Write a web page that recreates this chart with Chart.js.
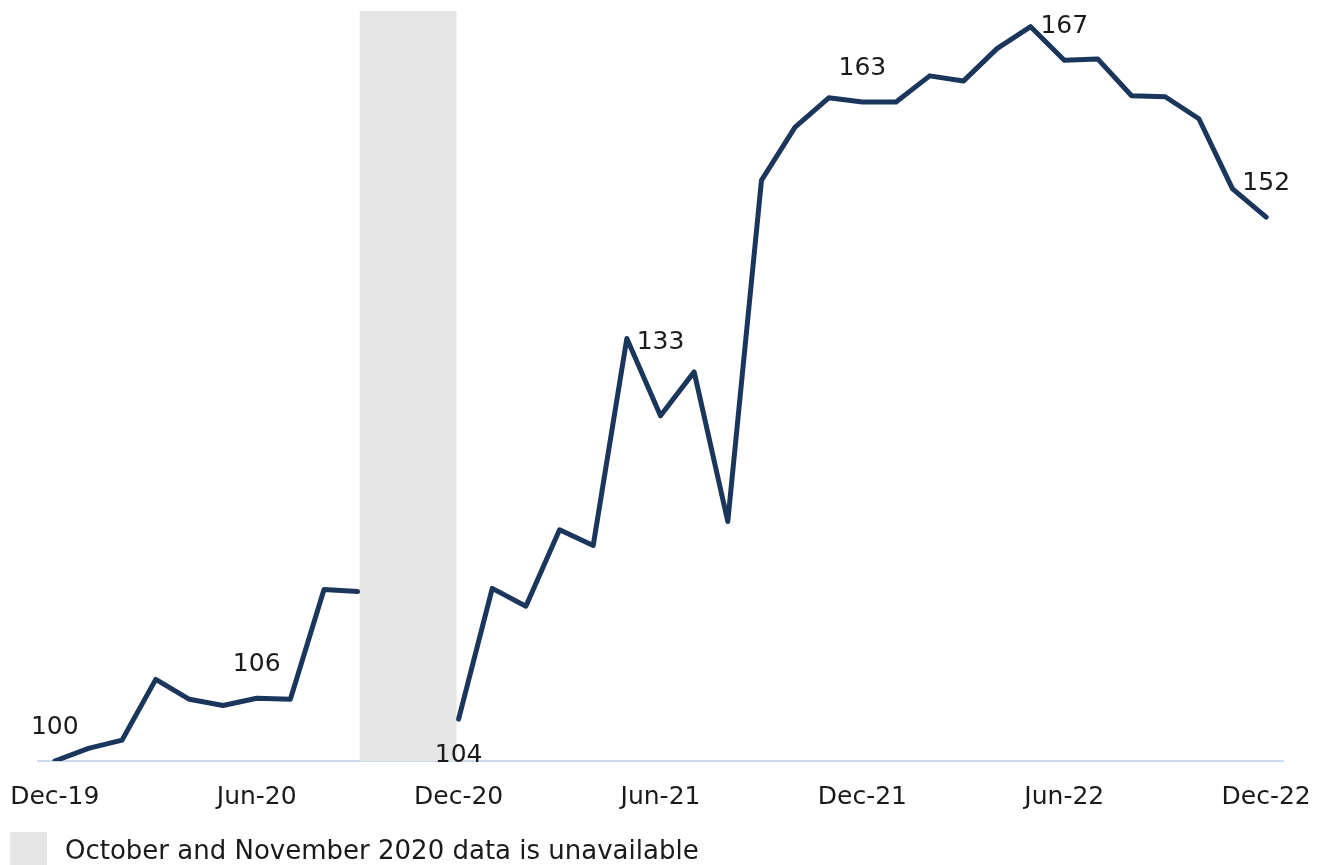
<!DOCTYPE html>
<html>
<head>
<meta charset="utf-8">
<script src="https://cdn.jsdelivr.net/npm/chart.js@4/dist/chart.umd.min.js"></script>
<style>
  html, body { margin: 0; padding: 0; background: #fff; overflow: hidden; }
  #wrap { width: 1329px; height: 865px; position: relative; }
</style>
</head>
<body>
<div id="wrap"><canvas id="myChart"></canvas></div>
<script>
// monthly index, Dec-19 = 100 (Oct/Nov 2020 missing)
var months = ['Dec-19', 'Jan-20', 'Feb-20', 'Mar-20', 'Apr-20', 'May-20', 'Jun-20', 'Jul-20', 'Aug-20', 'Sep-20', 'Oct-20', 'Nov-20',
              'Dec-20', 'Jan-21', 'Feb-21', 'Mar-21', 'Apr-21', 'May-21', 'Jun-21', 'Jul-21', 'Aug-21', 'Sep-21', 'Oct-21', 'Nov-21',
              'Dec-21', 'Jan-22', 'Feb-22', 'Mar-22', 'Apr-22', 'May-22', 'Jun-22', 'Jul-22', 'Aug-22', 'Sep-22', 'Oct-22', 'Nov-22',
              'Dec-22'];
var indexValues = [100, 101.2, 102.0, 107.8, 105.9, 105.3, 106, 105.9, 116.4, 116.2, null, null,
                   104, 116.5, 114.8, 122.1, 120.6, 140.4, 133, 137.2, 122.9, 155.5, 160.6, 163.4,
                   163, 163.0, 165.5, 165.0, 168.1, 170.2, 167, 167.1, 163.6, 163.5, 161.4, 154.7,
                   152];
var tickMonths = ['Dec-19', 'Jun-20', 'Dec-20', 'Jun-21', 'Dec-21', 'Jun-22', 'Dec-22'];
var labelledMonths = ['Dec-19', 'Jun-20', 'Dec-20', 'Jun-21', 'Dec-21', 'Jun-22', 'Dec-22'];
var gapMonths = ['Sep-20', 'Dec-20'];
var legendText = 'October and November 2020 data is unavailable';

var fontFam = "'DejaVu Sans', sans-serif";
var grey = '#e5e5e5';

// shaded band over the missing months
var gapBand = {
    id: 'gapBand',
    beforeDatasetsDraw: function (chart) {
        var ctx = chart.ctx;
        var x = chart.scales.x;
        var area = chart.chartArea;
        var x0 = x.getPixelForValue(months.indexOf(gapMonths[0])) + 2;
        var x1 = x.getPixelForValue(months.indexOf(gapMonths[1])) - 2;
        ctx.save();
        ctx.fillStyle = grey;
        ctx.fillRect(x0, area.top, x1 - x0, area.bottom - area.top);
        ctx.restore();
    }
};

// value labels every six months + legend line at the bottom
var valueLabels = {
    id: 'valueLabels',
    afterDatasetsDraw: function (chart) {
        var ctx = chart.ctx;
        var meta = chart.getDatasetMeta(0);
        ctx.save();
        ctx.font = '25px ' + fontFam;
        ctx.fillStyle = '#1a1a1a';
        ctx.textAlign = 'center';
        ctx.textBaseline = 'middle';
        labelledMonths.forEach(function (m) {
            var i = months.indexOf(m);
            var pt = meta.data[i];
            var dy = -34;
            if (m === 'Dec-20') dy = 36;
            if (m === 'Jun-21') dy = -73;
            ctx.fillText(Math.round(indexValues[i]), pt.x, pt.y + dy);
        });

        // legend
        ctx.fillStyle = grey;
        ctx.fillRect(10, 832, 37, 40);
        ctx.fillStyle = '#1a1a1a';
        ctx.textAlign = 'left';
        ctx.font = '26px ' + fontFam;
        ctx.fillText(legendText, 65, 852);
        ctx.restore();
    }
};

var lineChart = new Chart(document.getElementById('myChart').getContext('2d'), {
    type: 'line',
    data: {
        labels: months,
        datasets: [{
            label: 'Index',
            data: indexValues,
            borderColor: '#1b365d',
            borderWidth: 5,
            borderJoinStyle: 'round',
            borderCapStyle: 'round',
            pointRadius: 0,
            tension: 0,
            spanGaps: false
        }]
    },
    options: {
        responsive: true,
        maintainAspectRatio: false,
        animation: false,
        layout: { padding: { left: 38, right: 46, top: 11, bottom: 53 } },
        plugins: {
            legend: { display: false },
            tooltip: { enabled: false }
        },
        scales: {
            x: {
                offset: true,
                // grid hidden, tick length only used to push labels down
                grid: { display: false, drawTicks: true, tickLength: 21 },
                border: { display: true, color: '#cddbef', width: 2 },
                ticks: {
                    autoSkip: false,
                    maxRotation: 0,
                    padding: 0,
                    color: '#1a1a1a',
                    font: { family: fontFam, size: 25 },
                    callback: function (val, i) {
                        return tickMonths.indexOf(months[i]) >= 0 ? months[i] : '';
                    }
                }
            },
            y: {
                display: false,
                min: 100,
                max: 171.7
            }
        }
    },
    plugins: [gapBand, valueLabels]
});
</script>
</body>
</html>
